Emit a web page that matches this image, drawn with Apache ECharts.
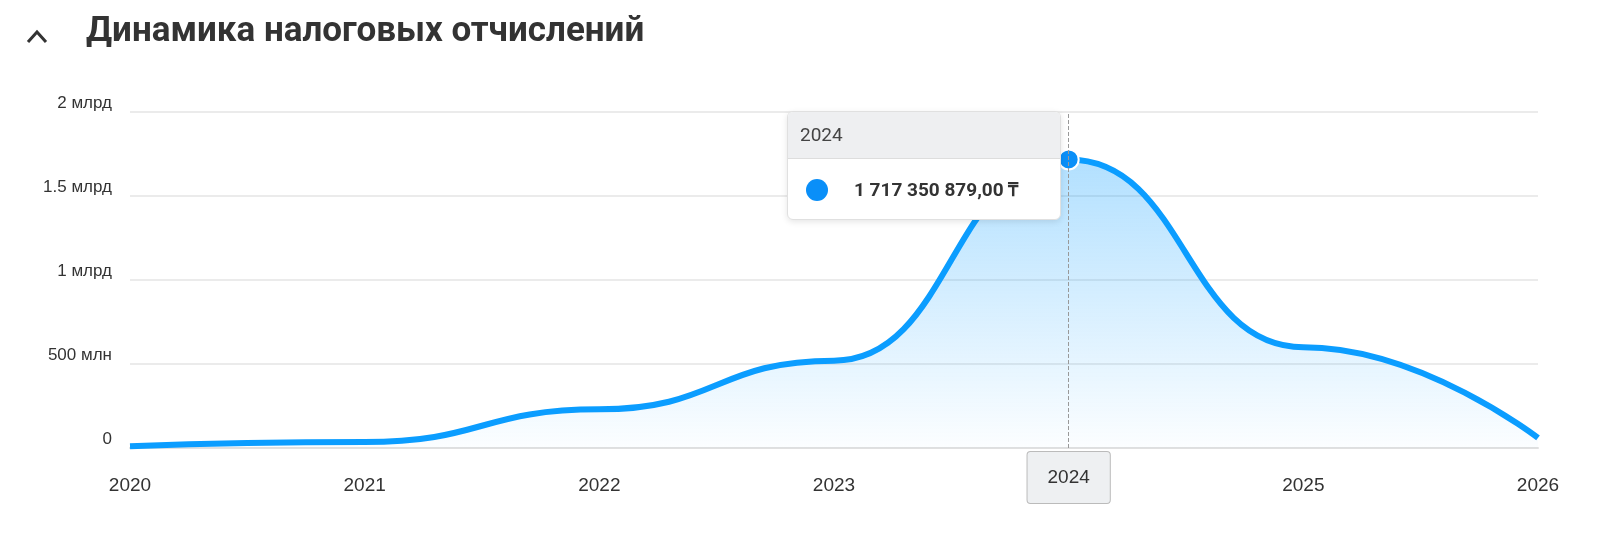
<!DOCTYPE html>
<html>
<head>
<meta charset="utf-8">
<script src="https://cdn.jsdelivr.net/npm/echarts@6/dist/echarts.min.js"></script>
<style>
body { margin: 0; background: #fff; font-family: Roboto, "Noto Sans", sans-serif; }
#chart { width: 1600px; height: 541px; }
</style>
</head>
<body>
<div id="chart"></div>
<script>
var years = ["2020", "2021", "2022", "2023", "2024", "2025", "2026"];
var taxValues = [10000000, 35000000, 230000000, 520000000, 1717350879, 600000000, 60000000];

function formatAxis(v) {
	if(v == 0) return "0";
	if(v >= 1000000000) return (v / 1000000000) + " млрд";
	return (v / 1000000) + " млн";
}

function formatMoney(v) {
	var s = v.toFixed(2).split(".");
	return s[0].replace(/\B(?=(\d{3})+(?!\d))/g, " ") + "," + s[1] + " ₸";
}

var myChart = echarts.init(document.getElementById("chart"));
var option = {
	animation: false,
	graphic: [{
		type: "polyline",
		shape: { points: [[28, 42], [37, 32], [46, 42]] },
		style: { stroke: "#333", lineWidth: 3, fill: null }
	}, {
		type: "text", left: 86, top: 15,
		style: { text: "Динамика налоговых отчислений", font: "bold 35px Roboto, 'Noto Sans'", fill: "#333" }
	}],
	grid: { left: 130, right: 62, top: 112, bottom: 93 },
	tooltip: {
		trigger: "axis",
		alwaysShowContent: true,
		padding: 0,
		borderColor: "#e0e0e0",
		backgroundColor: "#fff",
		extraCssText: "border-radius:6px;box-shadow:0 2px 6px rgba(0,0,0,0.1);overflow:hidden;",
		position: function(point, params, dom, rect, size) {
			return [point[0] - size.contentSize[0] - 8, 111];
		},
		formatter: function(params) {
			var p = params[0];
			return '<div style="width:272px;font-family:Roboto">' +
				'<div style="background:#eeeff1;height:46px;line-height:46px;padding-left:12px;font-size:19px;color:#444;border-bottom:1px solid #ddd">' + p.name + '</div>' +
				'<div style="height:60px;line-height:60px;padding-left:18px;font-size:19px;color:#333">' +
				'<span style="display:inline-block;width:22px;height:22px;border-radius:11px;background:#0a8ff8;vertical-align:middle;margin-right:26px"></span>' +
				'<b style="vertical-align:middle">' + formatMoney(p.value) + '</b></div></div>';
		},
		axisPointer: {
			type: "line",
			lineStyle: { color: "#999", type: "dashed", width: 1 }
		}
	},
	xAxis: {
		type: "category",
		boundaryGap: false,
		data: years,
		axisLine: { lineStyle: { color: "#e0e0e0", width: 2 } },
		axisTick: { show: false },
		axisLabel: { color: "#333", fontSize: 19, margin: 28 },
		axisPointer: {
			label: {
				show: true, backgroundColor: "#eef0f2", color: "#333", fontSize: 19,
				borderColor: "#bbb", borderWidth: 1, padding: [16, 20], margin: 4
			}
		}
	},
	yAxis: {
		type: "value",
		min: 0, max: 2000000000, interval: 500000000,
		axisLine: { show: false },
		axisTick: { show: false },
		axisLabel: { color: "#333", fontSize: 17, margin: 18, verticalAlign: "bottom", formatter: formatAxis },
		splitLine: { lineStyle: { color: "#e5e5e5", width: 1.5 } }
	},
	series: [{
		type: "line",
		smooth: 0.5,
		smoothMonotone: "x",
		data: taxValues,
		showSymbol: false,
		symbol: "circle",
		symbolSize: 20,
		lineStyle: { color: "#0a8ff8", width: 6 },
		itemStyle: { color: "#0a8ff8", borderColor: "#fff", borderWidth: 2 },
		emphasis: { scale: 1 },
		areaStyle: {
			color: new echarts.graphic.LinearGradient(0, 0, 0, 1, [
				{ offset: 0, color: "rgba(10,143,248,0.45)" },
				{ offset: 1, color: "rgba(10,143,248,0.02)" }
			])
		}
	}]
};
myChart.setOption(option);
myChart.dispatchAction({ type: "showTip", seriesIndex: 0, dataIndex: 4 });
</script>
</body>
</html>
